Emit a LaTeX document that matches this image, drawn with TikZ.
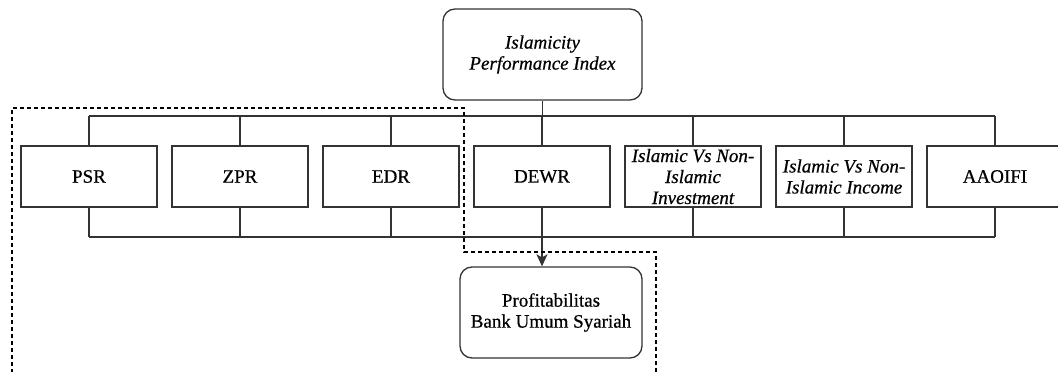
\documentclass[tikz,border=0pt]{standalone}
\usepackage{fontspec}
\setmainfont{Liberation Serif}
\newfontfamily\diagFamily{Liberation Serif}[FakeBold=0.6]
\usetikzlibrary{arrows.meta, positioning, calc}
\definecolor{lineGrey}{RGB}{51, 51, 51}
\newcommand{\diagFont}{\diagFamily\fontsize{19}{21}\selectfont}
\newcommand{\boxPitch}{151}
\newcommand{\ratioBoxes}{%
    psr/PSR/upright,
    zpr/ZPR/upright,
    edr/EDR/upright,
    dewr/DEWR/upright,
    invest/{Islamic Vs Non-\\Islamic\\Investment}/italic,
    income/{Islamic Vs Non-\\Islamic Income}/italic,
    aaoifi/AAOIFI/upright%
}

\begin{document}
\begin{tikzpicture} [
        x=1pt, y=-1pt,
        line width=1.3pt,
        ratio/.style={draw=lineGrey, minimum width=136pt, minimum height=61pt, align=center, inner sep=0pt, font=\diagFont},
        upright/.style={},
        italic/.style={font=\diagFont\itshape},
        rounded box/.style={draw=lineGrey, rounded corners=12pt, align=center, font=\diagFont},
        link/.style={draw=lineGrey},
        group/.style={draw=black, line width=1.1pt, dash pattern=on 4pt off 3pt},
    ]
    \useasboundingbox (0,0) rectangle (1058,372);
    \clip (0,0) rectangle (1058,372);

    \node[rounded box, italic, minimum width=199pt, minimum height=91pt] (ipi) at (542.5,54.5) {Islamicity\\Performance Index};

    \coordinate (upper bus) at (0,116);
    \coordinate (lower bus) at (0,237);

    \foreach \name/\label/\look [count=\i from 0] in \ratioBoxes {
        \node[ratio, \look] (\name) at (89+\boxPitch*\i, 176.5) {\label};
        \coordinate (top \i) at (\name.north |- upper bus);
        \coordinate (bot \i) at (\name.south |- lower bus);
        \draw[link] (\name.north) -- (top \i);
        \draw[link] (\name.south) -- (bot \i);
    }
    \draw[link] (top 0) -- (top 6);
    \draw[link] (bot 0) -- (bot 6);
    \draw[link] (ipi.south) -- (ipi.south |- upper bus);

    \node[rounded box, minimum width=182pt, minimum height=91pt] (profit) at (551,312.5) {Profitabilitas\\Bank Umum Syariah};
    \draw[link, -{Stealth[length=12pt, width=11pt, inset=3pt]}] (bot 3) -- (bot 3 |- profit.north);

    % dashed grouping
    \draw[group] (12,380) -- (12,108) -- (464,108) -- (464,252) -- (656,252) -- (656,380);
\end{tikzpicture}
\end{document}
